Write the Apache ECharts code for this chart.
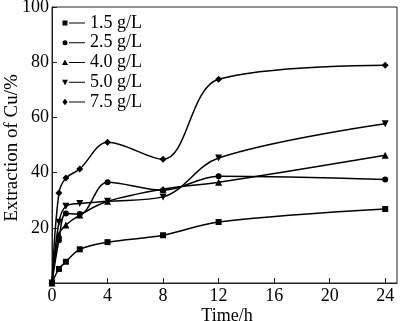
<!DOCTYPE html>
<html><head><meta charset="utf-8">
<script src="https://cdn.jsdelivr.net/npm/echarts@6/dist/echarts.min.js"></script>
<style>html,body{margin:0;padding:0;background:#fff}#c{width:400px;height:321px}</style>
</head><body><div id="c"></div>
<script>
const times = [0, 0.5, 1, 2, 4, 8, 12, 24];
const seriesNames = ['1.5 g/L', '2.5 g/L', '4.0 g/L', '5.0 g/L', '7.5 g/L'];
const s15 = [0, 5.1, 7.7, 12.2, 14.8, 17.3, 22.1, 26.8];
const s25 = [0, 15.5, 25.2, 25.0, 36.5, 33.6, 38.7, 37.5];
const s40 = [0, 17.5, 21.0, 24.6, 29.6, 34.0, 36.5, 46.3];
const s50 = [0, 22.0, 27.8, 28.8, 29.6, 31.2, 45.3, 57.7];
const s75 = [0, 32.6, 38.0, 41.3, 51.0, 44.8, 73.8, 78.9];
const xTicks = [0, 4, 8, 12, 16, 20, 24];
const yTicks = [20, 40, 60, 80, 100];

const symbols = ['rect', 'circle', 'triangle', 'path://M0,0L10,0L5,10z', 'diamond'];
const sizes = [6, 6, 7, 7, 7];
const box = 'M0,0h0.01v0.01h-0.01z M23,8h-0.01v-0.01h0.01z ';
const line = 'M7,3.5h16v1.1h-16z';
const icons = [
  'path://' + box + 'M0.5,1.5h5v5h-5z ' + line,
  'path://' + box + 'M3,1.5a2.5,2.5 0 1 1 0,5a2.5,2.5 0 1 1 0,-5z ' + line,
  'path://' + box + 'M3,1L6,6.5H0z ' + line,
  'path://' + box + 'M0,1.5H6L3,7z ' + line,
  'path://' + box + 'M3,0.8L5.6,4L3,7.2L0.4,4z ' + line
];
const data = [s15, s25, s40, s50, s75];
const font = 'Liberation Serif';

const chart = echarts.init(document.getElementById('c'));
chart.setOption({
  animation: false,
  backgroundColor: '#fff',
  grid: { left: 52, right: 3, top: 7, bottom: 38, show: true, borderColor: '#222', borderWidth: 1,
    containLabel: false, outerBoundsMode: 'none' },
  legend: {
    orient: 'vertical', left: 62, top: 14, padding: 0, itemWidth: 23, itemHeight: 8, itemGap: 1.75,
    textStyle: { fontFamily: font, fontSize: 18, lineHeight: 18, color: '#000' },
    data: seriesNames.map((n, i) => ({ name: n, icon: icons[i], itemStyle: { color: '#000' } }))
  },
  xAxis: {
    type: 'value', min: 0, max: 24.85, interval: 4,
    name: '{s|}Time/h', nameLocation: 'middle', nameGap: 24, nameMoveOverlap: false,
    nameTextStyle: { fontFamily: font, fontSize: 18, color: '#000',
      rich: { s: { width: 5, fontFamily: font, fontSize: 18 } } },
    axisLine: { lineStyle: { color: '#222', width: 1 } },
    axisTick: { inside: true, length: 5, lineStyle: { color: '#222' } },
    axisLabel: { fontFamily: font, fontSize: 18, color: '#000', margin: 4, showMaxLabel: false,
      formatter: v => xTicks.includes(v) ? String(v) : '' },
    splitLine: { show: false }
  },
  yAxis: {
    type: 'value', min: 0, max: 100, interval: 20,
    name: 'Extraction of Cu/%{s|}', nameLocation: 'middle', nameGap: 30, nameRotate: 90,
    nameMoveOverlap: false,
    nameTextStyle: { fontFamily: font, fontSize: 19, color: '#000',
      rich: { s: { width: 6, fontFamily: font, fontSize: 19 } } },
    axisLine: { lineStyle: { color: '#222', width: 1 } },
    axisTick: { inside: true, length: 5, lineStyle: { color: '#222' } },
    axisLabel: { fontFamily: font, fontSize: 18, color: '#000', margin: 3, showMinLabel: false,
      formatter: v => yTicks.includes(v) ? String(v) : '' },
    splitLine: { show: false }
  },
  series: data.map((d, i) => ({
    name: seriesNames[i], type: 'line', smooth: 0.35,
    data: d.map((v, j) => [times[j], v]),
    symbol: symbols[i], symbolSize: sizes[i], showAllSymbol: true,
    lineStyle: { color: '#000', width: 1.5 },
    itemStyle: { color: '#000' }
  }))
});
</script></body></html>
